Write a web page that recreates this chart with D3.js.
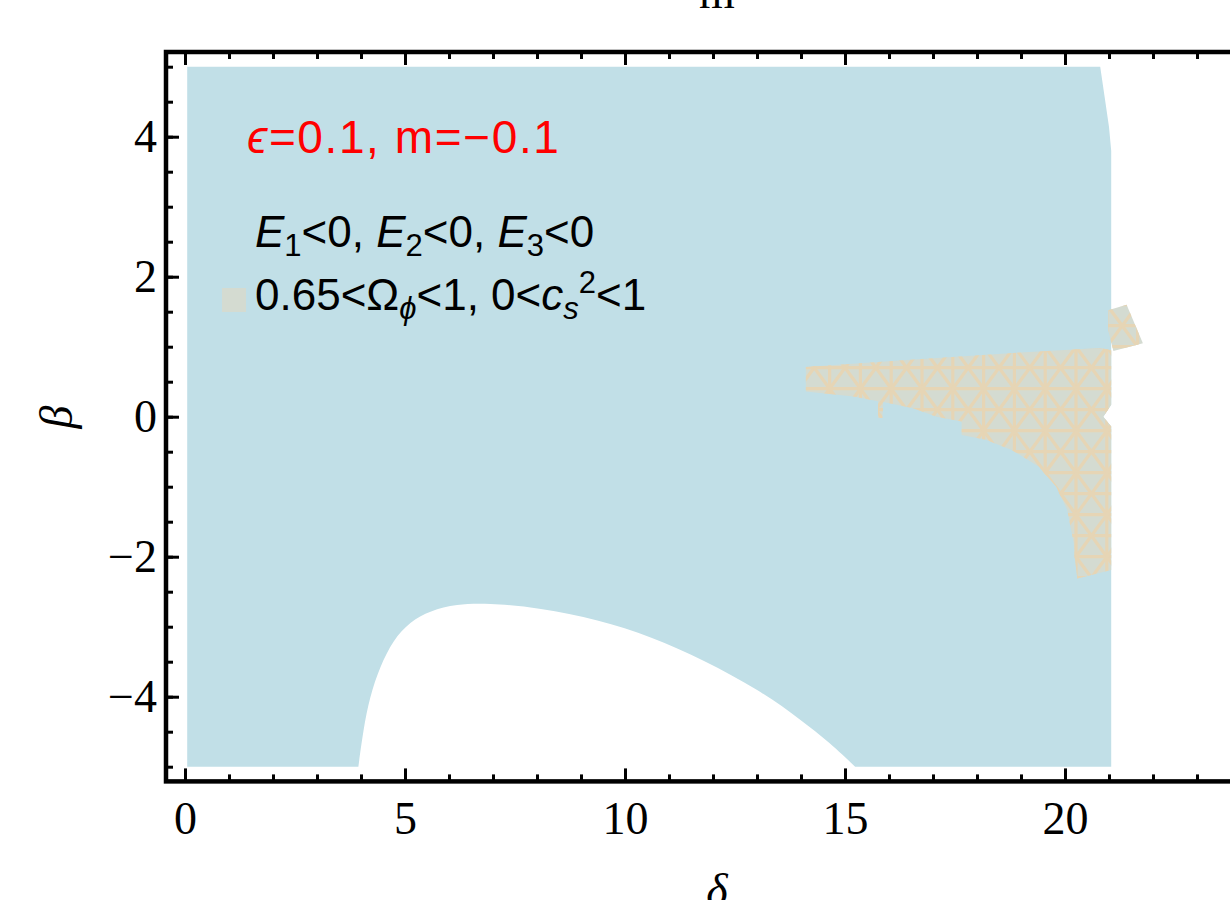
<!DOCTYPE html>
<html lang="en">
<head>
<meta charset="UTF-8">
<title>Region plot</title>
<script src="https://d3js.org/d3.v7.min.js"></script>
<style>
    body { margin: 0; background: #fff; }
    svg { display: block; }
    .tick text { font-family: "Liberation Serif", serif; font-size: 46px; fill: #000; }
    .tick line { stroke: #000; stroke-width: 3; }
    .note { font-family: "Liberation Sans", Arial, sans-serif; }
</style>
</head>
<body>
<div id="chart"></div>
<script>
    // axis ticks
    const deltaMajor = [0, 5, 10, 15, 20, 25];
    const deltaLabels = [0, 5, 10, 15, 20];
    const deltaMinor = d3.range(0, 25, 1);
    const betaMajor = [-4, -2, 0, 2, 4];
    const betaMinor = d3.range(-5, 5.01, 0.5);

    // stable region E1,E2,E3<0 (outer boundary)
    const stableOuter = [
        [3.94, -5], [0.05, -5], [0.05, 5], [20.8, 5], [20.9, 4.57], [21.0, 4.14],
        [21.05, 3.8], [21.05, 0.17], [20.87, 0.0], [21.05, -0.14], [21.05, -5], [15.23, -5]
    ];
    // lower unstable hole (white), traced from right to left
    const holeCurve = [
        [15.23, -5], [14.66, -4.66], [14.0, -4.33], [13.04, -3.9], [11.8, -3.48],
        [10.6, -3.14], [9.39, -2.9], [8.07, -2.73], [6.86, -2.66], [6.17, -2.68],
        [5.57, -2.77], [5.11, -2.93], [4.73, -3.19], [4.43, -3.57], [4.2, -4.0],
        [4.05, -4.48], [3.94, -5]
    ];
    // 0.65<Omega<1, 0<cs^2<1 region
    const viableMain = [
        [14.11, 0.71], [16.4, 0.81], [18.83, 0.91], [20.8, 0.98], [21.05, 0.95],
        [21.05, 0.17], [20.87, 0.0], [21.05, -0.14], [21.05, -2.19], [20.28, -2.31],
        [20.22, -2.0], [20.2, -1.81], [20.05, -1.33], [19.8, -1.0], [19.4, -0.71],
        [18.8, -0.48], [18.2, -0.33], [17.65, -0.26], [17.65, -0.07], [17.08, 0.0],
        [16.55, 0.12], [15.87, 0.21], [15.85, -0.02], [15.75, -0.02], [15.75, 0.22],
        [15.19, 0.29], [14.11, 0.36]
    ];
    const viableSmall = [
        [20.98, 1.52], [21.4, 1.6], [21.77, 1.05], [21.1, 0.94], [20.98, 1.24]
    ];

    const width = 1230, height = 900;
    const blue = "#c1dfe7";
    const beige = "#d4dbd1";
    const mesh = "#e6d5b5";

    const x = d3.scaleLinear().domain([-0.432, 24.6]).range([166, 166 + 25.032 * 44]);
    const y = d3.scaleLinear().domain([-5.21, 5.21]).range([781.4, 52]);

    const svg = d3.select("#chart").append("svg")
        .attr("width", width)
        .attr("height", height);

    const lin = d3.line().x(d => x(d[0])).y(d => y(d[1]));
    const smooth = d3.line().x(d => x(d[0])).y(d => y(d[1])).curve(d3.curveBasis);

    // blue region
    svg.append("path")
        .attr("d", lin(stableOuter) + smooth(holeCurve).replace(/^M/, "L") + "Z")
        .attr("fill", blue);

    // beige region with mesh
    const defs = svg.append("defs");
    const clip = defs.append("clipPath").attr("id", "viableClip");
    [viableMain, viableSmall].forEach(p => clip.append("path").attr("d", lin(p) + "Z"));

    [viableMain, viableSmall].forEach(p => {
        svg.append("path").attr("d", lin(p) + "Z").attr("fill", beige);
    });

    const meshG = svg.append("g").attr("clip-path", "url(#viableClip)")
        .attr("stroke", mesh).attr("stroke-width", 3.2).attr("fill", "none");
    const gx = d3.range(13.95, 22.3, 0.7);
    const gy = d3.range(-2.6, 1.9, 0.3);
    gx.forEach(d => meshG.append("line").attr("x1", x(d)).attr("x2", x(d)).attr("y1", y(-2.6)).attr("y2", y(1.9)));
    gy.forEach(d => meshG.append("line").attr("y1", y(d)).attr("y2", y(d)).attr("x1", x(13.9)).attr("x2", x(22.3)));
    gx.slice(0, -1).forEach((a, i) => {
        gy.slice(0, -2).forEach((b, j) => {
            if (j % 2) return;
            const a2 = gx[i + 1], b2 = gy[j + 2];
            meshG.append("line").attr("x1", x(a)).attr("y1", y(b)).attr("x2", x(a2)).attr("y2", y(b2));
            meshG.append("line").attr("x1", x(a)).attr("y1", y(b2)).attr("x2", x(a2)).attr("y2", y(b));
        });
    });

    // frame
    const x0 = x.range()[0], x1 = x.range()[1], y0 = y.range()[1], y1 = y.range()[0];
    svg.append("rect")
        .attr("x", x0).attr("y", y0)
        .attr("width", x1 - x0).attr("height", y1 - y0)
        .attr("fill", "none").attr("stroke", "#000").attr("stroke-width", 4.5);

    const fmt = d => d < 0 ? "\u2212" + Math.abs(d) : String(d);
    const clean = g => g.select(".domain").remove();

    // bottom
    svg.append("g").attr("transform", `translate(0,${y1})`)
        .call(d3.axisBottom(x).tickValues(deltaMinor).tickSize(-7).tickFormat("")).call(clean);
    svg.append("g").attr("transform", `translate(0,${y1})`)
        .call(d3.axisBottom(x).tickValues(deltaMajor).tickSize(-13).tickFormat("")).call(clean);
    svg.append("g").attr("transform", `translate(0,${y1})`)
        .call(d3.axisBottom(x).tickValues(deltaLabels).tickSize(0).tickPadding(20).tickFormat(fmt)).call(clean);
    // top
    svg.append("g").attr("transform", `translate(0,${y0})`)
        .call(d3.axisTop(x).tickValues(deltaMinor).tickSize(-7).tickFormat("")).call(clean);
    svg.append("g").attr("transform", `translate(0,${y0})`)
        .call(d3.axisTop(x).tickValues(deltaMajor).tickSize(-13).tickFormat("")).call(clean);
    // left
    svg.append("g").attr("transform", `translate(${x0},0)`)
        .call(d3.axisLeft(y).tickValues(betaMinor).tickSize(-7).tickFormat("")).call(clean);
    svg.append("g").attr("transform", `translate(${x0},0)`)
        .call(d3.axisLeft(y).tickValues(betaMajor).tickSize(-13).tickPadding(9).tickFormat(fmt)).call(clean);
    // right
    svg.append("g").attr("transform", `translate(${x1},0)`)
        .call(d3.axisRight(y).tickValues(betaMinor).tickSize(-7).tickFormat("")).call(clean);
    svg.append("g").attr("transform", `translate(${x1},0)`)
        .call(d3.axisRight(y).tickValues(betaMajor).tickSize(-13).tickFormat("")).call(clean);

    // axis titles
    svg.append("text")
        .attr("x", 717).attr("y", 906)
        .attr("text-anchor", "middle")
        .attr("font-family", "Liberation Serif, serif").attr("font-style", "italic")
        .attr("font-size", 46).text("\u03b4");
    svg.append("text")
        .attr("transform", "translate(72,417) rotate(-90)")
        .attr("text-anchor", "middle")
        .attr("font-family", "Liberation Serif, serif").attr("font-style", "italic")
        .attr("font-size", 46).text("\u03b2");
    svg.append("text")
        .attr("x", 717).attr("y", 8)
        .attr("text-anchor", "middle")
        .attr("font-family", "Liberation Serif, serif")
        .attr("font-size", 46).text("m");

    // annotation
    const red = svg.append("text").attr("class", "note")
        .attr("x", 247).attr("y", 153).attr("font-size", 46).attr("fill", "#ff0000")
        .attr("letter-spacing", 1.6);
    red.append("tspan").attr("font-style", "italic").text("\u03f5");
    red.append("tspan").text("=0.1, m=\u22120.1");

    const t1 = svg.append("text").attr("class", "note")
        .attr("x", 255).attr("y", 247).attr("font-size", 44).attr("fill", "#000");
    [1, 2, 3].forEach((k, i) => {
        t1.append("tspan").attr("font-style", "italic").text("E");
        t1.append("tspan").attr("font-size", 31).attr("dy", 9).text(k);
        t1.append("tspan").attr("dy", -9).text(i < 2 ? "<0, " : "<0");
    });

    svg.append("rect")
        .attr("x", 222).attr("y", 288).attr("width", 24).attr("height", 24)
        .attr("fill", beige);
    const t2 = svg.append("text").attr("class", "note")
        .attr("x", 255).attr("y", 310).attr("font-size", 44).attr("fill", "#000");
    t2.append("tspan").text("0.65<\u03a9");
    t2.append("tspan").attr("font-size", 31).attr("dy", 9).attr("font-style", "italic").text("\u03d5");
    t2.append("tspan").attr("dy", -9).text("<1, 0<");
    t2.append("tspan").attr("font-style", "italic").text("c");
    t2.append("tspan").attr("font-size", 31).attr("dy", 9).attr("font-style", "italic").text("s");
    t2.append("tspan").attr("font-size", 31).attr("dy", -26).text("2");
    t2.append("tspan").attr("dy", 17).text("<1");
</script>
</body>
</html>
